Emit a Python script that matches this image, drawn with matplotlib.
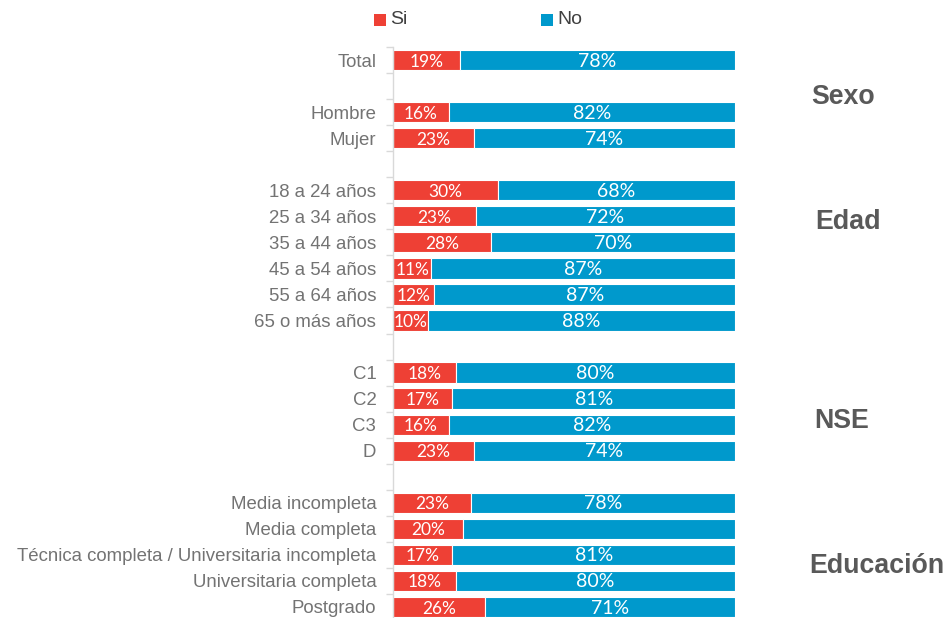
import matplotlib
matplotlib.use("Agg")
import matplotlib.pyplot as plt
import matplotlib.transforms as mtrans
from matplotlib.patches import Rectangle
import numpy as np

categories = ["Total", "", "Hombre", "Mujer", "",
              "18 a 24 años", "25 a 34 años", "35 a 44 años", "45 a 54 años",
              "55 a 64 años", "65 o más años", "",
              "C1", "C2", "C3", "D", "",
              "Media incompleta", "Media completa",
              "Técnica completa / Universitaria incompleta",
              "Universitaria completa", "Postgrado"]
si = [19, None, 16, 23, None, 30, 23, 28, 11, 12, 10, None,
      18, 17, 16, 23, None, 23, 20, 17, 18, 26]
no = [78, None, 82, 74, None, 68, 72, 70, 87, 87, 88, None,
      80, 81, 82, 74, None, 78, 78, 81, 80, 71]
no_label_shown = [True, False, True, True, False, True, True, True, True, True, True, False,
                  True, True, True, True, False, True, False, True, True, True]
groups = ["Sexo", "Edad", "NSE", "Educación"]
group_rows = [1.42, 6.22, 13.86, 19.42]
legend_labels = ["Si", "No"]

RED = "#EE4035"
BLUE = "#0099CC"
GRAY = "#737373"

W, H = 949, 618
fig = plt.figure(figsize=(W / 100, H / 100), dpi=100)
ax = fig.add_axes([393 / W, -2 / H, 342 / W, 573 / H])

n = len(categories)
y = np.arange(n)
for i in range(n):
    if si[i] is None:
        continue
    tot = si[i] + no[i]
    s = si[i] / tot * 100
    o = no[i] / tot * 100
    ax.barh(y[i], s, height=0.78, color=RED, edgecolor="white", linewidth=0.8)
    ax.barh(y[i], o, left=s, height=0.78, color=BLUE, edgecolor="white", linewidth=0.8)
    ax.text(s / 2, y[i] + 0.06, f"{si[i]}%", ha="center", va="center",
            color="white", fontsize=12.5, family="Lato")
    if no_label_shown[i]:
        ax.text(s + o / 2, y[i] + 0.04, f"{no[i]}%", ha="center", va="center",
                color="white", fontsize=14, family="Lato")

ax.set_xlim(0, 100)
ax.set_ylim(n - 0.5, -0.5)
ax.set_yticks(y)
ax.set_yticklabels(categories, fontsize=13.4, color=GRAY, family="Liberation Sans")
ax.tick_params(axis="y", which="major", length=0, pad=12)
ax.set_yticks(np.arange(n + 1) - 0.5, minor=True)
ax.tick_params(axis="y", which="minor", length=5, color="#D9D9D9", width=1)
ax.set_xticks([])
for sp in ["top", "right", "bottom"]:
    ax.spines[sp].set_visible(False)
ax.spines["left"].set_color("#D9D9D9")
ax.spines["left"].set_linewidth(1)

# group labels
trans = mtrans.blended_transform_factory(fig.transFigure, ax.transData)
gx = [843, 848, 842, 877]
for g, r, xpx in zip(groups, group_rows, gx):
    ax.text(xpx / W, r, g, transform=trans, ha="center", va="center",
            fontsize=19.3, fontweight="bold", color="#595959", family="Liberation Sans")

# legend (manual)
leg_x = [374, 541]
for lab, col, lx in zip(legend_labels, [RED, BLUE], leg_x):
    fig.patches.append(Rectangle((lx / W, 1 - 26 / H), 12 / W, 12 / H,
                                 transform=fig.transFigure, facecolor=col, edgecolor="none"))
    fig.text((lx + 16) / W, 1 - 20 / H, lab, ha="left", va="center", fontsize=14,
             color="#404040", family="Liberation Sans")

fig.savefig("out.png", dpi=100)
